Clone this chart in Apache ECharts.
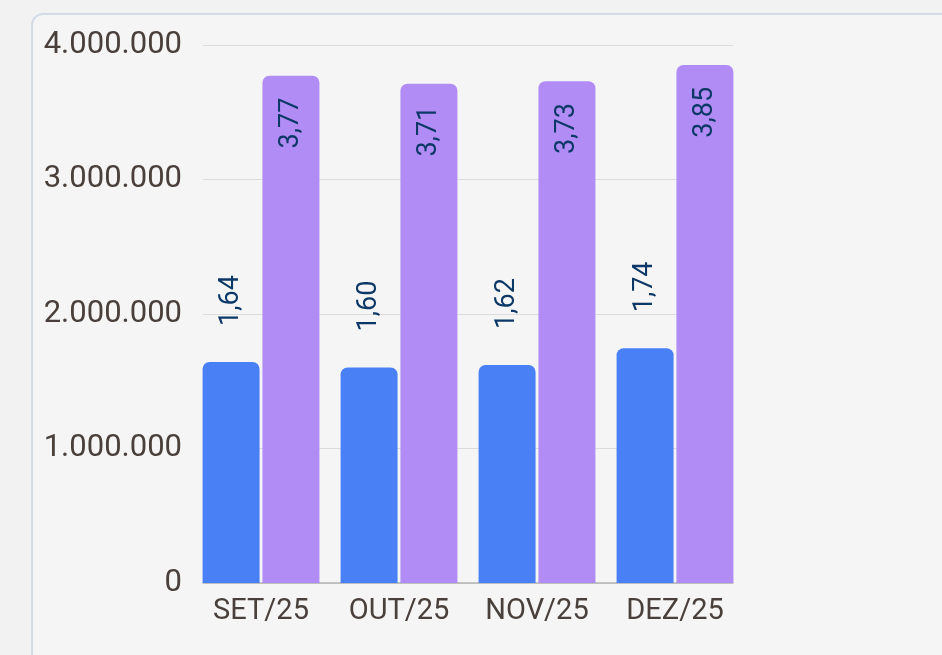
<!DOCTYPE html>
<html lang="pt">
<head>
    <meta charset="UTF-8">
    <title>SET/25 - DEZ/25</title>
    <script src="https://cdn.jsdelivr.net/npm/echarts@6/dist/echarts.min.js"></script>
    <style>
        html, body {
            margin: 0;
            padding: 0;
            background-color: #f2f2f3;      /* fundo da página */
            overflow: hidden;
        }
        .card {
            position: absolute;
            left: 31px;
            top: 13px;
            width: 1000px;
            height: 700px;
            border: 2px solid #d3dce6;       /* borda do cartão */
            border-radius: 12px;
            background-color: #f5f5f5;
        }
        #chart {
            position: absolute;
            left: 0;
            top: 0;
            width: 942px;
            height: 655px;
        }
    </style>
</head>
<body>
<div class="card"></div>
<div id="chart"></div>

<script type="text/javascript">
    // dados
    var meses = ['SET/25', 'OUT/25', 'NOV/25', 'DEZ/25'];
    var serieAzul = [1643000, 1602000, 1621000, 1745000];
    var serieRoxa = [3772000, 3712000, 3731000, 3852000];
    var yTicks = [0, 1000000, 2000000, 3000000, 4000000];

    var fonte = 'Roboto';

    function formatoMilhar(v) {
        return String(v).replace(/\B(?=(\d{3})+(?!\d))/g, '.');
    }
    function formatoMilhoes(p) {
        return (Math.floor(p.value / 10000) / 100).toFixed(2).replace('.', ',');
    }

    var myChart = echarts.init(document.getElementById('chart'));

    var option = {
        backgroundColor: 'transparent',
        animation: false,
        grid: [
            // grade das linhas de divisão
            { left: 203, right: 209, top: 45, bottom: 72 },
            // grade das barras
            { left: 192, right: 198, top: 45, bottom: 72 }
        ],
        xAxis: [
            {
                gridIndex: 0,
                type: 'value',
                min: 0,
                max: 1,
                axisLine: { show: true, onZero: true, lineStyle: { color: '#b4b4b4', width: 1.5 } },
                axisTick: { show: false },
                axisLabel: { show: false },
                splitLine: { show: false }
            },
            {
                gridIndex: 1,
                type: 'category',
                data: meses,
                axisLine: { show: false },
                axisTick: { show: false },
                axisLabel: {
                    interval: 0,
                    hideOverlap: false,
                    color: '#4a403b',
                    fontFamily: fonte,
                    fontSize: 29,
                    margin: 14
                }
            }
        ],
        yAxis: [
            {
                gridIndex: 0,
                type: 'value',
                min: yTicks[0],
                max: yTicks[yTicks.length - 1],
                interval: yTicks[1] - yTicks[0],
                axisLine: { show: false },
                axisTick: { show: false },
                axisLabel: {
                    color: '#4a403b',
                    fontFamily: fonte,
                    fontSize: 31,
                    margin: 21,
                    formatter: formatoMilhar
                },
                splitLine: { show: true, lineStyle: { color: '#dcdcdc', width: 1.2 } }
            },
            {
                gridIndex: 1,
                type: 'value',
                min: yTicks[0],
                max: yTicks[yTicks.length - 1],
                show: false,
                splitLine: { show: false }
            }
        ],
        series: [
            {
                name: 'azul',
                type: 'bar',
                xAxisIndex: 1,
                yAxisIndex: 1,
                barWidth: 57,
                barGap: '5%',
                data: serieAzul,
                itemStyle: {
                    color: '#4a80f6',
                    borderRadius: [7, 7, 0, 0]
                },
                label: {
                    show: true,
                    position: 'top',
                    rotate: 90,
                    align: 'left',
                    verticalAlign: 'middle',
                    distance: 36,
                    color: '#0c3867',
                    fontFamily: fonte,
                    fontSize: 27,
                    formatter: formatoMilhoes
                }
            },
            {
                name: 'roxo',
                type: 'bar',
                xAxisIndex: 1,
                yAxisIndex: 1,
                barWidth: 57,
                data: serieRoxa,
                itemStyle: {
                    color: '#b08cf4',
                    borderRadius: [7, 7, 0, 0]
                },
                label: {
                    show: true,
                    position: 'insideTop',
                    rotate: 90,
                    align: 'right',
                    verticalAlign: 'middle',
                    distance: 22,
                    color: '#0c3867',
                    fontFamily: fonte,
                    fontSize: 27,
                    formatter: formatoMilhoes
                }
            }
        ]
    };

    myChart.setOption(option);
</script>
</body>
</html>
